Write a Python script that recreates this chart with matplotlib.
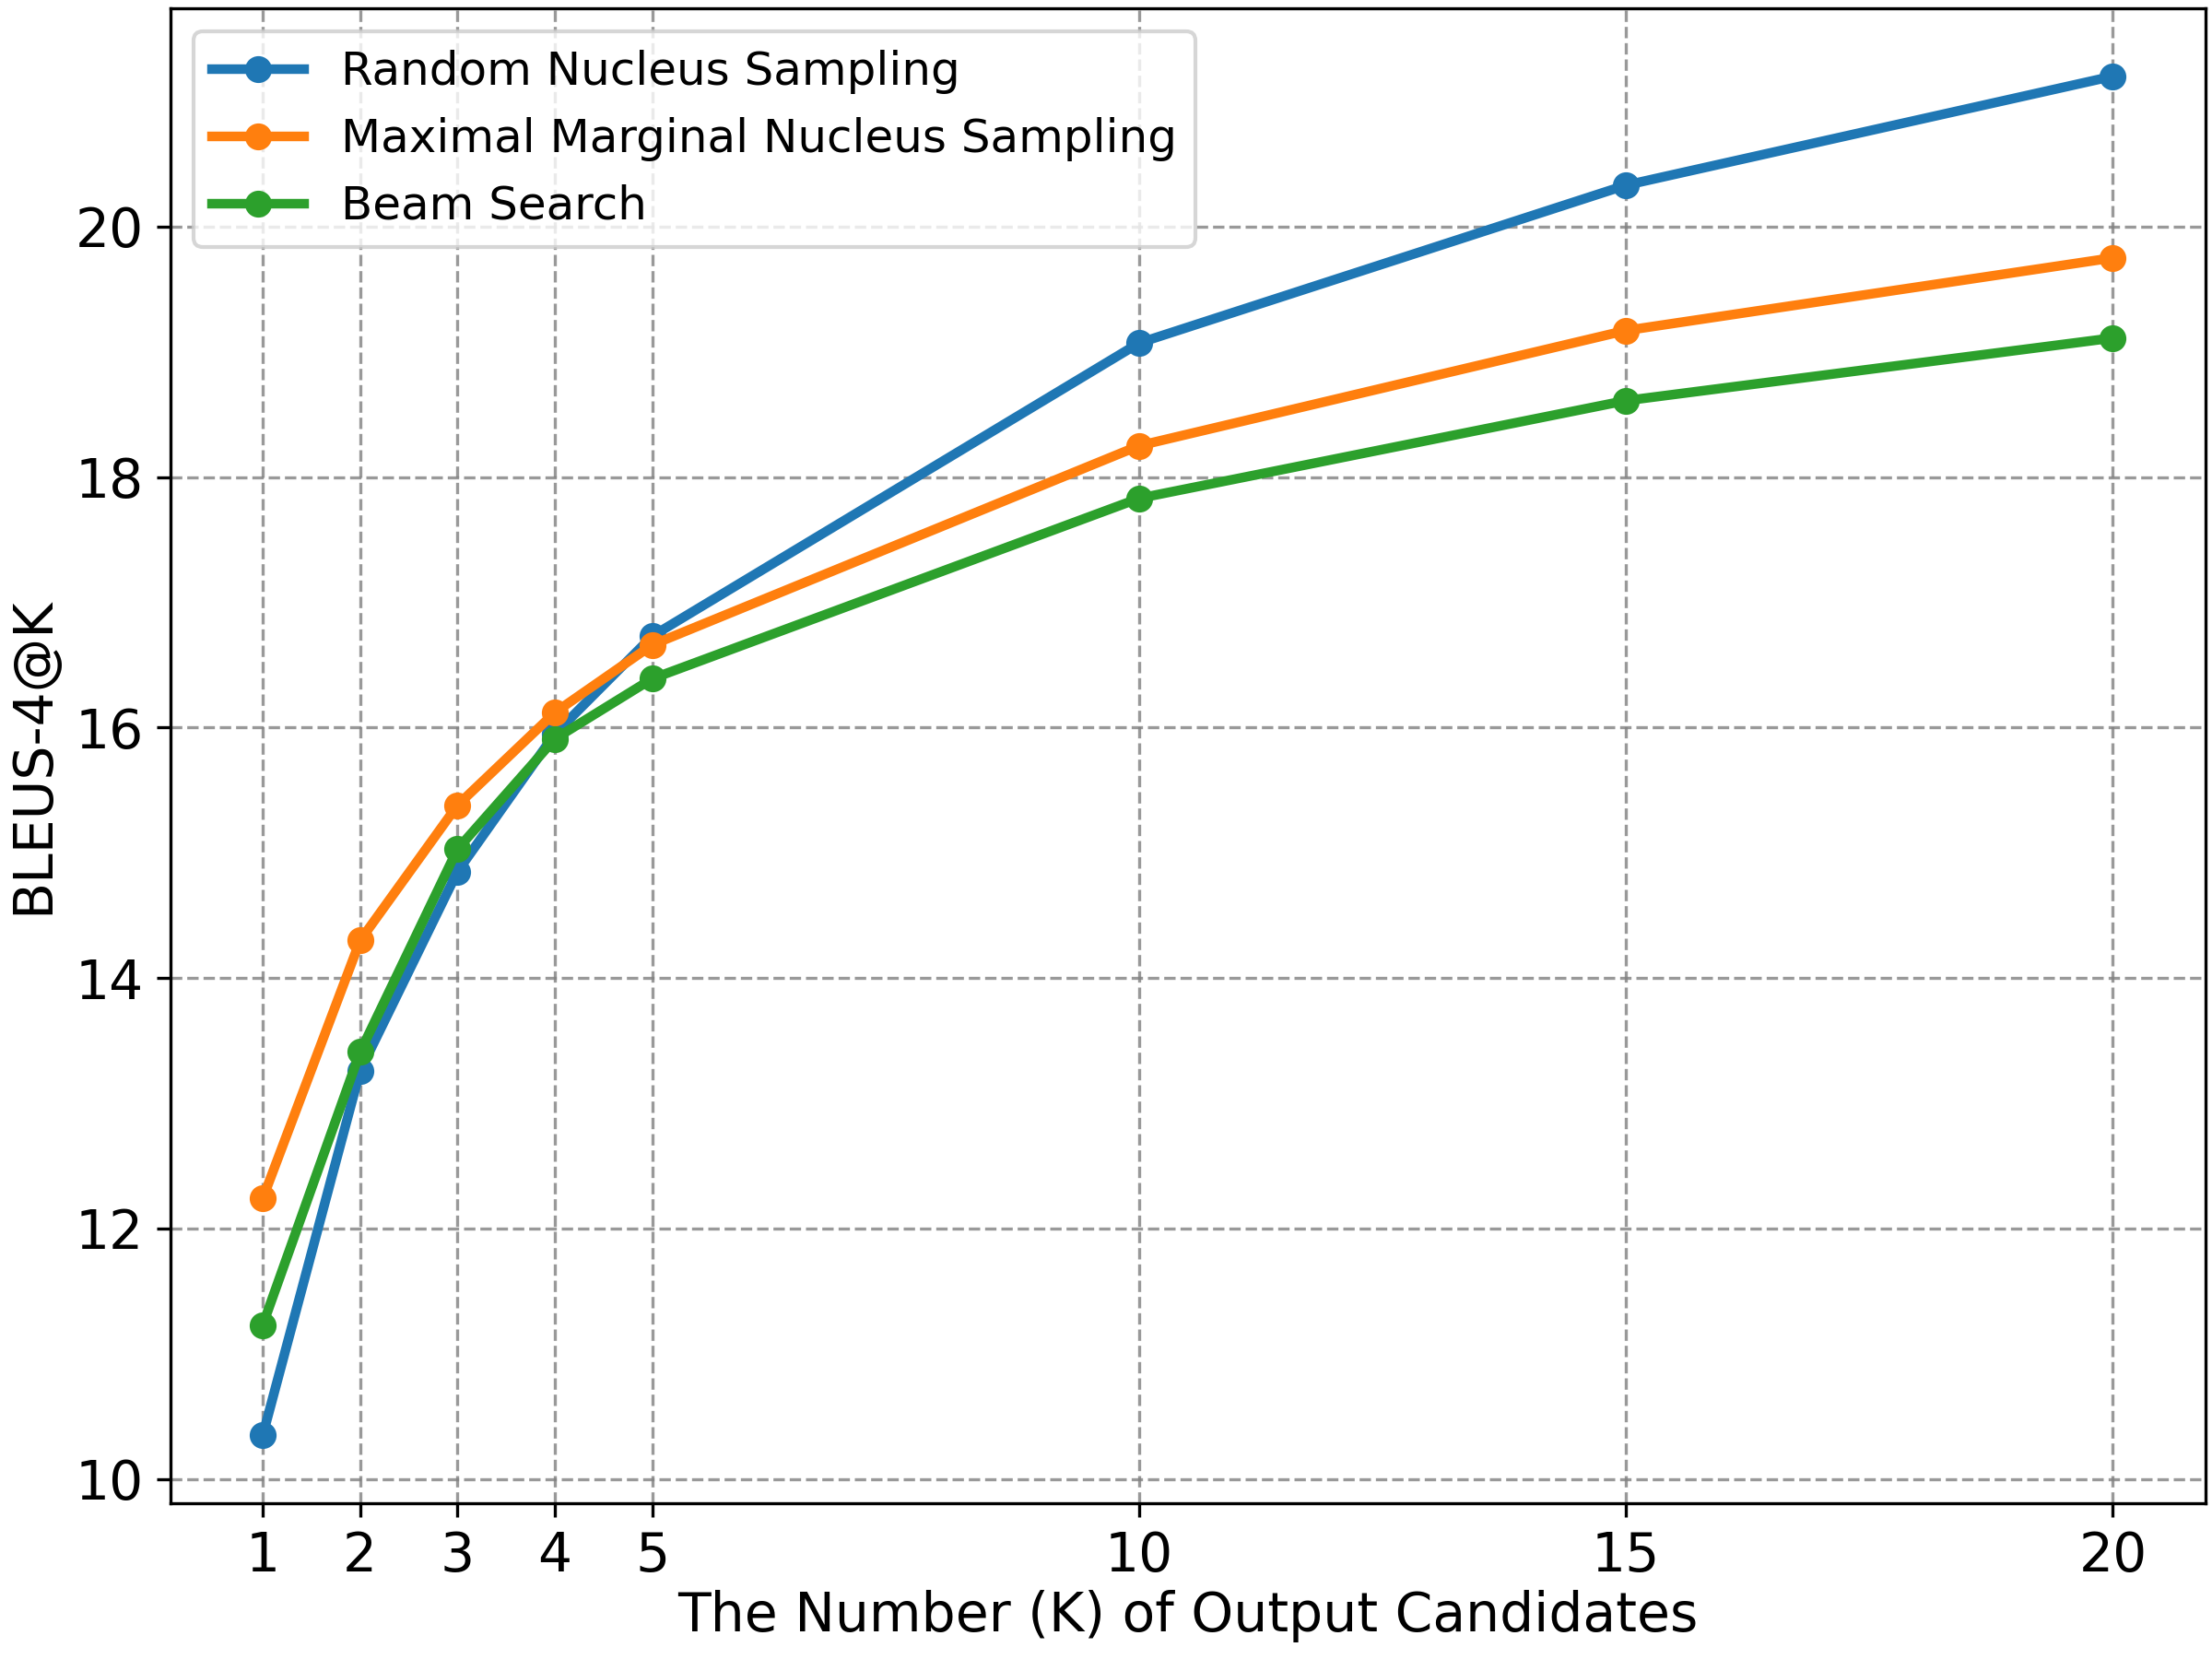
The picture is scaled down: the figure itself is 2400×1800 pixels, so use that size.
import matplotlib
matplotlib.use("Agg")
import matplotlib.pyplot as plt

k_values = [1, 2, 3, 4, 5, 10, 15, 20]
random_nucleus = [10.35, 13.26, 14.85, 15.95, 16.73, 19.07, 20.33, 21.20]
maximal_marginal = [12.24, 14.30, 15.38, 16.12, 16.66, 18.25, 19.17, 19.75]
beam_search = [11.23, 13.41, 15.03, 15.91, 16.39, 17.83, 18.61, 19.11]
y_ticks = [10, 12, 14, 16, 18, 20]

plt.rcParams['font.size'] = 12
fig, ax = plt.subplots(figsize=(8, 6), dpi=300)
fig.subplots_adjust(left=0.077, right=0.997, top=0.995, bottom=0.094)

ax.plot(k_values, random_nucleus, marker='o', linewidth=2.5, markersize=6, label='Random Nucleus Sampling')
ax.plot(k_values, maximal_marginal, marker='o', linewidth=2.5, markersize=6, label='Maximal Marginal Nucleus Sampling')
ax.plot(k_values, beam_search, marker='o', linewidth=2.5, markersize=6, label='Beam Search')

ax.set_xticks(k_values)
ax.set_yticks(y_ticks)
ax.tick_params(labelsize=14)
ax.set_xlabel('The Number (K) of Output Candidates', fontsize=14, labelpad=2)
ax.set_ylabel('BLEUS-4@K', fontsize=14)
ax.grid(True, linestyle='--', color='gray', alpha=0.8, linewidth=0.8)
ax.legend(loc='upper left', fontsize=12)

fig.savefig('out.png', dpi=300)
